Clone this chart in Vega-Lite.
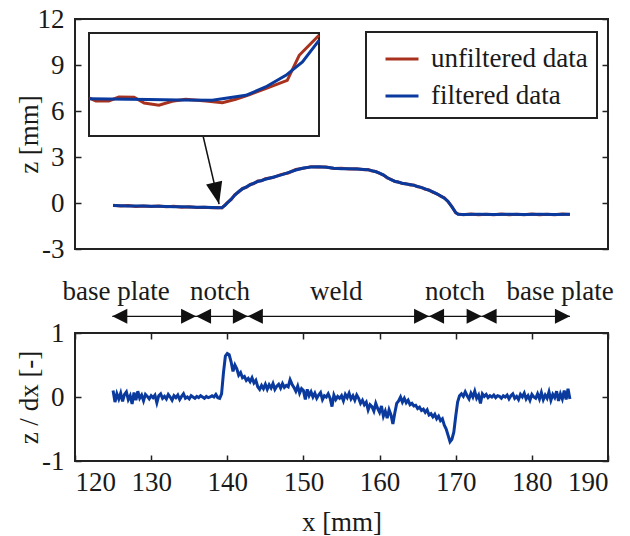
{
  "$schema": "https://vega.github.io/schema/vega-lite/v6.json",
  "padding": {"left": 13, "top": 4, "right": 5, "bottom": 5},
  "bounds": "flush",
  "spacing": 84,
  "config": {
    "font": "'Liberation Serif', 'Times New Roman', serif",
    "view": {"stroke": "#222", "strokeWidth": 2},
    "axis": {
      "labelFont": "'Liberation Serif', 'Times New Roman', serif", "labelFontSize": 27, "labelColor": "#1a1a1a",
      "titleFont": "'Liberation Serif', 'Times New Roman', serif", "titleFontSize": 27, "titleFontWeight": "normal", "titleColor": "#1a1a1a",
      "domain": false, "grid": false, "tickColor": "#222", "tickWidth": 1.5, "tickSize": -6, "labelPadding": 17,
      "labelExpr": "'' + datum.value"
    },
    "legend": {"strokeWidth": 2}
  },
  "datasets": {
    "profile": [
      {"x":125.0,"z":-0.15,"series":"unfiltered data"},{"x":126.0,"z":-0.20,"series":"unfiltered data"},{"x":127.0,"z":-0.17,"series":"unfiltered data"},{"x":128.0,"z":-0.22,"series":"unfiltered data"},{"x":129.0,"z":-0.19,"series":"unfiltered data"},{"x":130.0,"z":-0.23,"series":"unfiltered data"},{"x":131.0,"z":-0.20,"series":"unfiltered data"},{"x":132.0,"z":-0.25,"series":"unfiltered data"},{"x":133.0,"z":-0.22,"series":"unfiltered data"},{"x":134.0,"z":-0.27,"series":"unfiltered data"},{"x":135.0,"z":-0.24,"series":"unfiltered data"},{"x":136.0,"z":-0.29,"series":"unfiltered data"},{"x":137.0,"z":-0.27,"series":"unfiltered data"},{"x":138.0,"z":-0.31,"series":"unfiltered data"},{"x":138.8,"z":-0.29,"series":"unfiltered data"},{"x":139.3,"z":-0.32,"series":"unfiltered data"},{"x":139.7,"z":-0.13,"series":"unfiltered data"},{"x":140.0,"z":0.03,"series":"unfiltered data"},{"x":140.5,"z":0.22,"series":"unfiltered data"},{"x":141.0,"z":0.55,"series":"unfiltered data"},{"x":141.5,"z":0.72,"series":"unfiltered data"},{"x":142.0,"z":0.95,"series":"unfiltered data"},{"x":142.5,"z":1.02,"series":"unfiltered data"},{"x":143.0,"z":1.21,"series":"unfiltered data"},{"x":143.5,"z":1.27,"series":"unfiltered data"},{"x":144.0,"z":1.43,"series":"unfiltered data"},{"x":144.5,"z":1.45,"series":"unfiltered data"},{"x":145.0,"z":1.58,"series":"unfiltered data"},{"x":146.0,"z":1.66,"series":"unfiltered data"},{"x":147.0,"z":1.85,"series":"unfiltered data"},{"x":148.0,"z":1.96,"series":"unfiltered data"},{"x":149.0,"z":2.18,"series":"unfiltered data"},{"x":150.0,"z":2.26,"series":"unfiltered data"},{"x":151.0,"z":2.37,"series":"unfiltered data"},{"x":152.0,"z":2.35,"series":"unfiltered data"},{"x":153.0,"z":2.35,"series":"unfiltered data"},{"x":154.0,"z":2.25,"series":"unfiltered data"},{"x":155.0,"z":2.26,"series":"unfiltered data"},{"x":156.0,"z":2.21,"series":"unfiltered data"},{"x":157.0,"z":2.24,"series":"unfiltered data"},{"x":158.0,"z":2.17,"series":"unfiltered data"},{"x":158.5,"z":2.18,"series":"unfiltered data"},{"x":159.0,"z":2.09,"series":"unfiltered data"},{"x":159.5,"z":2.06,"series":"unfiltered data"},{"x":160.0,"z":1.93,"series":"unfiltered data"},{"x":160.5,"z":1.84,"series":"unfiltered data"},{"x":161.0,"z":1.63,"series":"unfiltered data"},{"x":161.5,"z":1.54,"series":"unfiltered data"},{"x":162.0,"z":1.40,"series":"unfiltered data"},{"x":162.5,"z":1.37,"series":"unfiltered data"},{"x":163.0,"z":1.27,"series":"unfiltered data"},{"x":163.5,"z":1.26,"series":"unfiltered data"},{"x":164.0,"z":1.18,"series":"unfiltered data"},{"x":164.5,"z":1.17,"series":"unfiltered data"},{"x":165.0,"z":1.06,"series":"unfiltered data"},{"x":165.5,"z":1.02,"series":"unfiltered data"},{"x":166.0,"z":0.90,"series":"unfiltered data"},{"x":166.5,"z":0.85,"series":"unfiltered data"},{"x":167.0,"z":0.70,"series":"unfiltered data"},{"x":167.5,"z":0.62,"series":"unfiltered data"},{"x":168.0,"z":0.45,"series":"unfiltered data"},{"x":168.5,"z":0.34,"series":"unfiltered data"},{"x":169.0,"z":0.08,"series":"unfiltered data"},{"x":169.5,"z":-0.23,"series":"unfiltered data"},{"x":170.0,"z":-0.64,"series":"unfiltered data"},{"x":170.3,"z":-0.71,"series":"unfiltered data"},{"x":171.0,"z":-0.77,"series":"unfiltered data"},{"x":172.0,"z":-0.72,"series":"unfiltered data"},{"x":173.0,"z":-0.76,"series":"unfiltered data"},{"x":174.0,"z":-0.73,"series":"unfiltered data"},{"x":175.0,"z":-0.77,"series":"unfiltered data"},{"x":176.0,"z":-0.72,"series":"unfiltered data"},{"x":177.0,"z":-0.76,"series":"unfiltered data"},{"x":178.0,"z":-0.73,"series":"unfiltered data"},{"x":179.0,"z":-0.77,"series":"unfiltered data"},{"x":180.0,"z":-0.72,"series":"unfiltered data"},{"x":181.0,"z":-0.76,"series":"unfiltered data"},{"x":182.0,"z":-0.73,"series":"unfiltered data"},{"x":183.0,"z":-0.77,"series":"unfiltered data"},{"x":184.0,"z":-0.72,"series":"unfiltered data"},{"x":185.0,"z":-0.75,"series":"unfiltered data"},
      {"x":125.0,"z":-0.17,"series":"filtered data"},{"x":126.0,"z":-0.18,"series":"filtered data"},{"x":127.0,"z":-0.19,"series":"filtered data"},{"x":128.0,"z":-0.20,"series":"filtered data"},{"x":129.0,"z":-0.20,"series":"filtered data"},{"x":130.0,"z":-0.21,"series":"filtered data"},{"x":131.0,"z":-0.22,"series":"filtered data"},{"x":132.0,"z":-0.23,"series":"filtered data"},{"x":133.0,"z":-0.24,"series":"filtered data"},{"x":134.0,"z":-0.25,"series":"filtered data"},{"x":135.0,"z":-0.26,"series":"filtered data"},{"x":136.0,"z":-0.27,"series":"filtered data"},{"x":137.0,"z":-0.28,"series":"filtered data"},{"x":138.0,"z":-0.29,"series":"filtered data"},{"x":138.8,"z":-0.31,"series":"filtered data"},{"x":139.3,"z":-0.30,"series":"filtered data"},{"x":139.7,"z":-0.15,"series":"filtered data"},{"x":140.0,"z":0.0,"series":"filtered data"},{"x":140.5,"z":0.25,"series":"filtered data"},{"x":141.0,"z":0.52,"series":"filtered data"},{"x":141.5,"z":0.75,"series":"filtered data"},{"x":142.0,"z":0.92,"series":"filtered data"},{"x":142.5,"z":1.05,"series":"filtered data"},{"x":143.0,"z":1.18,"series":"filtered data"},{"x":143.5,"z":1.30,"series":"filtered data"},{"x":144.0,"z":1.40,"series":"filtered data"},{"x":144.5,"z":1.47,"series":"filtered data"},{"x":145.0,"z":1.55,"series":"filtered data"},{"x":146.0,"z":1.68,"series":"filtered data"},{"x":147.0,"z":1.82,"series":"filtered data"},{"x":148.0,"z":1.98,"series":"filtered data"},{"x":149.0,"z":2.15,"series":"filtered data"},{"x":150.0,"z":2.28,"series":"filtered data"},{"x":151.0,"z":2.35,"series":"filtered data"},{"x":152.0,"z":2.37,"series":"filtered data"},{"x":153.0,"z":2.33,"series":"filtered data"},{"x":154.0,"z":2.27,"series":"filtered data"},{"x":155.0,"z":2.24,"series":"filtered data"},{"x":156.0,"z":2.23,"series":"filtered data"},{"x":157.0,"z":2.22,"series":"filtered data"},{"x":158.0,"z":2.19,"series":"filtered data"},{"x":158.5,"z":2.16,"series":"filtered data"},{"x":159.0,"z":2.11,"series":"filtered data"},{"x":159.5,"z":2.04,"series":"filtered data"},{"x":160.0,"z":1.95,"series":"filtered data"},{"x":160.5,"z":1.82,"series":"filtered data"},{"x":161.0,"z":1.66,"series":"filtered data"},{"x":161.5,"z":1.52,"series":"filtered data"},{"x":162.0,"z":1.42,"series":"filtered data"},{"x":162.5,"z":1.35,"series":"filtered data"},{"x":163.0,"z":1.29,"series":"filtered data"},{"x":163.5,"z":1.24,"series":"filtered data"},{"x":164.0,"z":1.20,"series":"filtered data"},{"x":164.5,"z":1.15,"series":"filtered data"},{"x":165.0,"z":1.08,"series":"filtered data"},{"x":165.5,"z":1.00,"series":"filtered data"},{"x":166.0,"z":0.92,"series":"filtered data"},{"x":166.5,"z":0.83,"series":"filtered data"},{"x":167.0,"z":0.72,"series":"filtered data"},{"x":167.5,"z":0.60,"series":"filtered data"},{"x":168.0,"z":0.47,"series":"filtered data"},{"x":168.5,"z":0.32,"series":"filtered data"},{"x":169.0,"z":0.10,"series":"filtered data"},{"x":169.5,"z":-0.25,"series":"filtered data"},{"x":170.0,"z":-0.62,"series":"filtered data"},{"x":170.3,"z":-0.73,"series":"filtered data"},{"x":171.0,"z":-0.75,"series":"filtered data"},{"x":173.0,"z":-0.74,"series":"filtered data"},{"x":175.0,"z":-0.75,"series":"filtered data"},{"x":177.0,"z":-0.74,"series":"filtered data"},{"x":179.0,"z":-0.75,"series":"filtered data"},{"x":181.0,"z":-0.74,"series":"filtered data"},{"x":183.0,"z":-0.75,"series":"filtered data"},{"x":185.0,"z":-0.74,"series":"filtered data"}
    ],
    "inset": [
      {"ix":136.0,"iz":-0.157,"series":"unfiltered data"},{"ix":136.15,"iz":-0.192,"series":"unfiltered data"},{"ix":136.43,"iz":-0.192,"series":"unfiltered data"},{"ix":136.65,"iz":-0.146,"series":"unfiltered data"},{"ix":136.98,"iz":-0.149,"series":"unfiltered data"},{"ix":137.2,"iz":-0.216,"series":"unfiltered data"},{"ix":137.52,"iz":-0.242,"series":"unfiltered data"},{"ix":137.81,"iz":-0.196,"series":"unfiltered data"},{"ix":138.1,"iz":-0.172,"series":"unfiltered data"},{"ix":138.54,"iz":-0.192,"series":"unfiltered data"},{"ix":138.9,"iz":-0.212,"series":"unfiltered data"},{"ix":139.19,"iz":-0.172,"series":"unfiltered data"},{"ix":139.48,"iz":-0.119,"series":"unfiltered data"},{"ix":139.84,"iz":-0.049,"series":"unfiltered data"},{"ix":140.31,"iz":0.049,"series":"unfiltered data"},{"ix":140.57,"iz":0.34,"series":"unfiltered data"},{"ix":141.0,"iz":0.573,"series":"unfiltered data"},
      {"ix":136.0,"iz":-0.165,"series":"filtered data"},{"ix":137.3,"iz":-0.175,"series":"filtered data"},{"ix":137.96,"iz":-0.181,"series":"filtered data"},{"ix":138.68,"iz":-0.184,"series":"filtered data"},{"ix":139.41,"iz":-0.126,"series":"filtered data"},{"ix":139.84,"iz":-0.029,"series":"filtered data"},{"ix":140.28,"iz":0.107,"series":"filtered data"},{"ix":140.64,"iz":0.262,"series":"filtered data"},{"ix":141.0,"iz":0.515,"series":"filtered data"}
    ],
    "deriv": [
      {"x":125.00,"d":0.10},{"x":125.25,"d":-0.08},{"x":125.50,"d":0.05},{"x":125.75,"d":-0.03},{"x":126.00,"d":0.06},{"x":126.25,"d":-0.07},{"x":126.50,"d":0.04},{"x":126.75,"d":0.08},{"x":127.00,"d":-0.04},{"x":127.25,"d":0.02},{"x":127.50,"d":-0.11},{"x":127.75,"d":0.07},{"x":128.00,"d":-0.05},{"x":128.25,"d":0.09},{"x":128.50,"d":-0.02},{"x":128.75,"d":0.03},{"x":129.00,"d":-0.06},{"x":129.25,"d":0.04},{"x":129.50,"d":0.01},{"x":129.75,"d":-0.03},{"x":130.00,"d":0.02},{"x":130.25,"d":-0.01},{"x":130.50,"d":0.03},{"x":130.75,"d":-0.09},{"x":131.00,"d":0.02},{"x":131.25,"d":0.05},{"x":131.50,"d":-0.02},{"x":131.75,"d":0.01},{"x":132.00,"d":-0.03},{"x":132.25,"d":0.04},{"x":132.50,"d":0.00},{"x":132.75,"d":-0.05},{"x":133.00,"d":0.02},{"x":133.25,"d":-0.01},{"x":133.50,"d":0.03},{"x":133.75,"d":-0.04},{"x":134.00,"d":0.01},{"x":134.25,"d":0.05},{"x":134.50,"d":-0.02},{"x":134.75,"d":0.00},{"x":135.00,"d":-0.03},{"x":135.25,"d":0.02},{"x":135.50,"d":0.00},{"x":135.75,"d":-0.02},{"x":136.00,"d":0.01},{"x":136.25,"d":-0.01},{"x":136.50,"d":0.02},{"x":136.75,"d":0.00},{"x":137.00,"d":-0.02},{"x":137.25,"d":0.01},{"x":137.50,"d":-0.01},{"x":137.75,"d":0.00},{"x":138.00,"d":0.02},{"x":138.25,"d":0.00},{"x":138.50,"d":0.04},{"x":138.75,"d":-0.01},{"x":139.00,"d":-0.02},{"x":139.25,"d":0.05},{"x":139.50,"d":0.38},{"x":139.75,"d":0.64},{"x":140.00,"d":0.68},{"x":140.25,"d":0.66},{"x":140.50,"d":0.55},{"x":140.75,"d":0.40},{"x":141.00,"d":0.50},{"x":141.25,"d":0.44},{"x":141.50,"d":0.34},{"x":141.75,"d":0.38},{"x":142.00,"d":0.30},{"x":142.25,"d":0.32},{"x":142.50,"d":0.26},{"x":142.75,"d":0.29},{"x":143.00,"d":0.24},{"x":143.25,"d":0.30},{"x":143.50,"d":0.22},{"x":143.75,"d":0.26},{"x":144.00,"d":0.16},{"x":144.25,"d":0.12},{"x":144.50,"d":0.18},{"x":144.75,"d":0.13},{"x":145.00,"d":0.20},{"x":145.25,"d":0.12},{"x":145.50,"d":0.19},{"x":145.75,"d":0.14},{"x":146.00,"d":0.21},{"x":146.25,"d":0.12},{"x":146.50,"d":0.17},{"x":146.75,"d":0.20},{"x":147.00,"d":0.14},{"x":147.25,"d":0.21},{"x":147.50,"d":0.15},{"x":147.75,"d":0.18},{"x":148.00,"d":0.16},{"x":148.25,"d":0.27},{"x":148.50,"d":0.20},{"x":148.75,"d":0.15},{"x":149.00,"d":0.09},{"x":149.25,"d":0.17},{"x":149.50,"d":0.06},{"x":149.75,"d":0.13},{"x":150.00,"d":0.10},{"x":150.25,"d":-0.04},{"x":150.50,"d":0.12},{"x":150.75,"d":0.02},{"x":151.00,"d":0.08},{"x":151.25,"d":0.00},{"x":151.50,"d":0.06},{"x":151.75,"d":-0.02},{"x":152.00,"d":0.03},{"x":152.25,"d":0.07},{"x":152.50,"d":-0.04},{"x":152.75,"d":0.02},{"x":153.00,"d":0.00},{"x":153.25,"d":0.05},{"x":153.50,"d":-0.02},{"x":153.75,"d":-0.15},{"x":154.00,"d":0.03},{"x":154.25,"d":-0.04},{"x":154.50,"d":0.01},{"x":154.75,"d":-0.02},{"x":155.00,"d":0.02},{"x":155.25,"d":-0.06},{"x":155.50,"d":0.04},{"x":155.75,"d":-0.01},{"x":156.00,"d":0.06},{"x":156.25,"d":-0.03},{"x":156.50,"d":0.02},{"x":156.75,"d":-0.05},{"x":157.00,"d":0.03},{"x":157.25,"d":-0.02},{"x":157.50,"d":-0.10},{"x":157.75,"d":-0.05},{"x":158.00,"d":-0.12},{"x":158.25,"d":-0.08},{"x":158.50,"d":-0.20},{"x":158.75,"d":-0.12},{"x":159.00,"d":-0.15},{"x":159.25,"d":-0.22},{"x":159.50,"d":-0.10},{"x":159.75,"d":-0.18},{"x":160.00,"d":-0.24},{"x":160.25,"d":-0.14},{"x":160.50,"d":-0.30},{"x":160.75,"d":-0.22},{"x":161.00,"d":-0.33},{"x":161.25,"d":-0.20},{"x":161.50,"d":-0.28},{"x":161.75,"d":-0.42},{"x":162.00,"d":-0.25},{"x":162.25,"d":-0.10},{"x":162.50,"d":-0.06},{"x":162.75,"d":0.00},{"x":163.00,"d":-0.08},{"x":163.25,"d":-0.02},{"x":163.50,"d":-0.09},{"x":163.75,"d":-0.05},{"x":164.00,"d":-0.12},{"x":164.25,"d":-0.10},{"x":164.50,"d":-0.14},{"x":164.75,"d":-0.13},{"x":165.00,"d":-0.18},{"x":165.25,"d":-0.16},{"x":165.50,"d":-0.21},{"x":165.75,"d":-0.19},{"x":166.00,"d":-0.24},{"x":166.25,"d":-0.20},{"x":166.50,"d":-0.28},{"x":166.75,"d":-0.26},{"x":167.00,"d":-0.31},{"x":167.25,"d":-0.27},{"x":167.50,"d":-0.34},{"x":167.75,"d":-0.30},{"x":168.00,"d":-0.37},{"x":168.25,"d":-0.34},{"x":168.50,"d":-0.44},{"x":168.75,"d":-0.50},{"x":169.00,"d":-0.60},{"x":169.25,"d":-0.70},{"x":169.50,"d":-0.66},{"x":169.75,"d":-0.55},{"x":170.00,"d":-0.30},{"x":170.25,"d":-0.08},{"x":170.50,"d":0.02},{"x":170.75,"d":0.05},{"x":171.00,"d":0.01},{"x":171.25,"d":0.08},{"x":171.50,"d":0.02},{"x":171.75,"d":-0.03},{"x":172.00,"d":0.06},{"x":172.25,"d":0.00},{"x":172.50,"d":0.09},{"x":172.75,"d":-0.02},{"x":173.00,"d":0.03},{"x":173.25,"d":-0.10},{"x":173.50,"d":0.05},{"x":173.75,"d":0.01},{"x":174.00,"d":0.04},{"x":174.25,"d":-0.01},{"x":174.50,"d":0.02},{"x":174.75,"d":0.00},{"x":175.00,"d":0.03},{"x":175.25,"d":-0.01},{"x":175.50,"d":0.02},{"x":175.75,"d":0.01},{"x":176.00,"d":-0.02},{"x":176.25,"d":0.02},{"x":176.50,"d":0.00},{"x":176.75,"d":0.03},{"x":177.00,"d":-0.03},{"x":177.25,"d":0.02},{"x":177.50,"d":0.05},{"x":177.75,"d":-0.02},{"x":178.00,"d":0.01},{"x":178.25,"d":-0.04},{"x":178.50,"d":0.04},{"x":178.75,"d":0.00},{"x":179.00,"d":0.06},{"x":179.25,"d":-0.03},{"x":179.50,"d":0.02},{"x":179.75,"d":-0.05},{"x":180.00,"d":0.04},{"x":180.25,"d":0.00},{"x":180.50,"d":-0.02},{"x":180.75,"d":0.05},{"x":181.00,"d":-0.03},{"x":181.25,"d":0.07},{"x":181.50,"d":-0.04},{"x":181.75,"d":0.03},{"x":182.00,"d":-0.02},{"x":182.25,"d":0.08},{"x":182.50,"d":-0.05},{"x":182.75,"d":0.04},{"x":183.00,"d":-0.01},{"x":183.25,"d":0.09},{"x":183.50,"d":-0.06},{"x":183.75,"d":0.05},{"x":184.00,"d":-0.03},{"x":184.25,"d":0.10},{"x":184.50,"d":-0.04},{"x":184.75,"d":0.13},{"x":185.00,"d":-0.03}
    ],
    "zones": [
      {"label":"base plate","start":124.9,"end":135.9,"label_x":125.4},
      {"label":"notch","start":135.9,"end":142.7,"label_x":139.05},
      {"label":"weld","start":142.7,"end":166.5,"label_x":154.3},
      {"label":"notch","start":166.5,"end":173.4,"label_x":169.9},
      {"label":"base plate","start":173.4,"end":185.0,"label_x":183.7}
    ]
  },
  "vconcat": [
    {
      "width": 533, "height": 230,
      "layer": [
        {
          "layer": [
            {
              "data": {"name": "profile"},
              "mark": {"type": "line", "strokeWidth": 3},
              "encoding": {
                "x": {"field": "x", "type": "quantitative", "scale": {"domain": [120, 190], "nice": false, "zero": false}, "axis": null},
                "y": {"field": "z", "type": "quantitative", "scale": {"domain": [-3, 12], "nice": false, "zero": false},
                      "axis": {"values": [-3, 0, 3, 6, 9, 12], "title": "z [mm]", "titleX": -46, "titleBaseline": "middle"}},
                "color": {"field": "series", "type": "nominal",
                  "scale": {"domain": ["unfiltered data", "filtered data"], "range": ["#A8321E", "#0A3A9E"]},
                  "legend": {"orient": "none", "legendX": 291, "legendY": 13, "title": null, "strokeColor": "#222", "fillColor": "white",
                    "padding": 9, "symbolType": "stroke", "symbolSize": 1089, "symbolStrokeWidth": 3, "labelFont": "'Liberation Serif', 'Times New Roman', serif",
                    "labelFontSize": 27, "labelOffset": 11, "symbolOffset": 9, "rowPadding": 6, "labelColor": "#1a1a1a", "labelLimit": 300}}
              }
            },
            {
              "data": {"values": [{"x0": 136.82, "y0": 4.37, "x1": 138.92, "y1": -0.07}]},
              "mark": {"type": "rule", "color": "#111", "strokeWidth": 1.5},
              "encoding": {
                "x": {"field": "x0", "type": "quantitative"}, "x2": {"field": "x1"},
                "y": {"field": "y0", "type": "quantitative"}, "y2": {"field": "y1"}
              }
            },
            {
              "data": {"values": [{"x1": 138.92, "y1": -0.07}]},
              "mark": {"type": "point", "shape": "M0,0L-0.75,-2L0.75,-2Z", "size": 484, "filled": true, "color": "#111", "opacity": 1, "angle": -13},
              "encoding": {
                "x": {"field": "x1", "type": "quantitative"},
                "y": {"field": "y1", "type": "quantitative"}
              }
            }
          ]
        },
        {
          "layer": [
            {
              "data": {"values": [{"ix0": 136, "ix1": 141, "iy0": -0.6, "iy1": 0.6}]},
              "mark": {"type": "rect", "fill": "white", "stroke": "#222", "strokeWidth": 2},
              "encoding": {
                "x": {"field": "ix0", "type": "quantitative", "scale": {"domain": [136, 141], "range": [14, 244], "nice": false, "zero": false}, "axis": null},
                "x2": {"field": "ix1"},
                "y": {"field": "iy0", "type": "quantitative", "scale": {"domain": [-0.6, 0.6], "range": [117, 14], "nice": false, "zero": false}, "axis": null},
                "y2": {"field": "iy1"}
              }
            },
            {
              "data": {"name": "inset"},
              "mark": {"type": "line", "strokeWidth": 3},
              "encoding": {
                "x": {"field": "ix", "type": "quantitative"},
                "y": {"field": "iz", "type": "quantitative"},
                "color": {"field": "series", "type": "nominal"}
              }
            }
          ]
        },
        {
          "data": {"values": [{"v": -3}, {"v": 12}]},
          "mark": {"type": "point", "opacity": 0},
          "encoding": {
            "y": {"field": "v", "type": "quantitative", "scale": {"domain": [-3, 12], "nice": false, "zero": false},
                  "axis": {"orient": "right", "values": [-3, 0, 3, 6, 9, 12], "labels": false, "title": null}}
          }
        }
      ],
      "resolve": {"scale": {"x": "independent", "y": "independent"}, "axis": {"x": "independent", "y": "independent"}}
    },
    {
      "width": 533, "height": 128,
      "layer": [
        {
          "layer": [
            {
              "data": {"name": "deriv"},
              "mark": {"type": "line", "color": "#0A3A9E", "strokeWidth": 3},
              "encoding": {
                "x": {"field": "x", "type": "quantitative", "scale": {"domain": [120, 190], "nice": false, "zero": false},
                      "axis": {"values": [120, 130, 140, 150, 160, 170, 180, 190], "title": "x [mm]", "titleY": 61, "titleBaseline": "middle", "labelPadding": 14}},
                "y": {"field": "d", "type": "quantitative", "scale": {"domain": [-1, 1], "nice": false},
                      "axis": {"values": [-1, 0, 1], "title": "z / dx [-]", "titleX": -46, "titleBaseline": "middle"}}
              }
            },
            {
              "data": {"name": "zones"},
              "mark": {"type": "rule", "color": "#111", "strokeWidth": 1.2},
              "encoding": {
                "x": {"field": "start", "type": "quantitative"}, "x2": {"field": "end"},
                "y": {"datum": 1.26}
              }
            },
            {
              "data": {"name": "zones"},
              "mark": {"type": "point", "shape": "M0,0L2,-1L2,1Z", "size": 225, "filled": true, "color": "#111", "opacity": 1},
              "encoding": {"x": {"field": "start", "type": "quantitative"}, "y": {"datum": 1.26}}
            },
            {
              "data": {"name": "zones"},
              "mark": {"type": "point", "shape": "M0,0L-2,-1L-2,1Z", "size": 225, "filled": true, "color": "#111", "opacity": 1},
              "encoding": {"x": {"field": "end", "type": "quantitative"}, "y": {"datum": 1.26}}
            },
            {
              "data": {"name": "zones"},
              "mark": {"type": "text", "font": "'Liberation Serif', 'Times New Roman', serif", "fontSize": 27, "baseline": "alphabetic", "color": "#1a1a1a"},
              "encoding": {"x": {"field": "label_x", "type": "quantitative"}, "y": {"datum": 1.52}, "text": {"field": "label"}}
            }
          ]
        },
        {
          "data": {"values": [{"u": 120, "v": -1}, {"u": 190, "v": 1}]},
          "mark": {"type": "point", "opacity": 0},
          "encoding": {
            "x": {"field": "u", "type": "quantitative", "scale": {"domain": [120, 190], "nice": false, "zero": false},
                  "axis": {"orient": "top", "values": [120, 130, 140, 150, 160, 170, 180, 190], "labels": false, "title": null}},
            "y": {"field": "v", "type": "quantitative", "scale": {"domain": [-1, 1], "nice": false, "zero": false},
                  "axis": {"orient": "right", "values": [-1, 0, 1], "labels": false, "title": null}}
          }
        }
      ],
      "resolve": {"scale": {"x": "independent", "y": "independent"}, "axis": {"x": "independent", "y": "independent"}}
    }
  ]
}
